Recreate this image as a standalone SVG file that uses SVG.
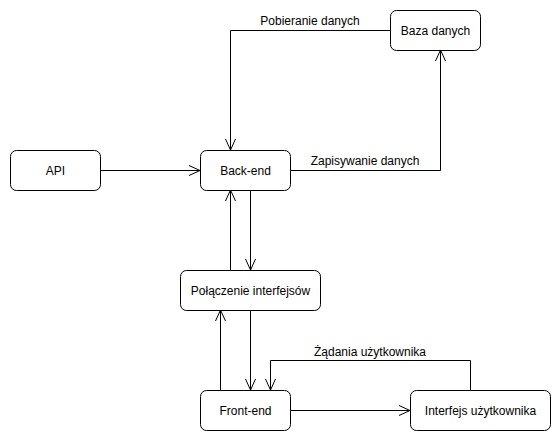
<svg xmlns="http://www.w3.org/2000/svg" width="560" height="440" viewBox="0 0 560 440">
<style>
.n rect{fill:#fff;stroke:#000;stroke-width:1}
text{font-family:"Liberation Sans",Arial,sans-serif;font-size:12px;fill:#000;text-anchor:middle}
.c path{fill:none;stroke:#000;stroke-width:1;marker-end:url(#a)}
</style>
<defs>
<marker id="a" markerUnits="userSpaceOnUse" viewBox="0 0 12 12" refX="11" refY="6" markerWidth="12" markerHeight="12" orient="auto">
<path d="M0,1 L11,6 L0,11" fill="none" stroke="#000" stroke-width="1"/>
</marker>
</defs>
<rect width="560" height="440" fill="#fff"/>
<g class="c" id="connectors">
<path d="M390.5,30.5 H230.5 V150"/>
<path d="M290,170.5 H440.5 V50"/>
<path d="M100,170.5 H200"/>
<path d="M250.5,190 V270"/>
<path d="M230.5,270 V190"/>
<path d="M250.5,310 V390"/>
<path d="M220.5,390 V310"/>
<path d="M290,410.5 H410"/>
<path d="M470.5,390 V360.5 H270.5 V390"/>
</g>
<g id="labels">
<text x="310" y="25">Pobieranie danych</text>
<text x="365" y="165">Zapisywanie danych</text>
<text x="370" y="356">Żądania użytkownika</text>
</g>
<g class="n" id="baza"><rect x="390.5" y="10.5" width="90" height="40" rx="6"/><text x="435.5" y="34.5">Baza danych</text></g>
<g class="n" id="api"><rect x="10.5" y="150.5" width="90" height="40" rx="6"/><text x="55.5" y="174.5">API</text></g>
<g class="n" id="backend"><rect x="200.5" y="150.5" width="90" height="40" rx="6"/><text x="245.5" y="174.5">Back-end</text></g>
<g class="n" id="polaczenie"><rect x="180.5" y="270.5" width="140" height="40" rx="6"/><text x="250.5" y="294.5">Połączenie interfejsów</text></g>
<g class="n" id="frontend"><rect x="200.5" y="390.5" width="90" height="40" rx="6"/><text x="245.5" y="414.5">Front-end</text></g>
<g class="n" id="interfejs"><rect x="410.5" y="390.5" width="140" height="40" rx="6"/><text x="480.5" y="414.5">Interfejs użytkownika</text></g>
</svg>
